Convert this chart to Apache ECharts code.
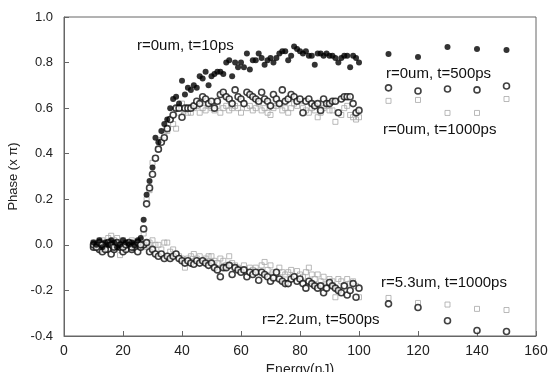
<!DOCTYPE html>
<html>
<head>
<meta charset="utf-8">
<script src="https://cdn.jsdelivr.net/npm/echarts@6/dist/echarts.min.js"></script>
<style>
html,body{margin:0;padding:0;background:#fff;}
#chart{width:549px;height:372px;}
</style>
</head>
<body>
<div id="chart"></div>
<script>
// Energy (nJ): 10..100 step 1, then 110..150 step 10
const energy = [];
for (let e = 10; e <= 100; e++) energy.push(e);
energy.push(110, 120, 130, 140, 150);

// r=0um, t=10ps (filled circles)
const r0t10 = [
  0.01, 0.00, 0.02, -0.01, 0.01, 0.00, 0.02, 0.01, -0.01, 0.00,   // 10-19
  0.02, 0.01, 0.00, 0.01, 0.00, 0.02, 0.03, 0.11, 0.22, 0.28,     // 20-29
  0.34, 0.47, 0.45, 0.50, 0.53, 0.55, 0.60, 0.64, 0.65, 0.62,     // 30-39
  0.72, 0.66, 0.69, 0.68, 0.70, 0.69, 0.74, 0.73, 0.76, 0.70,     // 40-49
  0.74, 0.75, 0.76, 0.76, 0.75, 0.80, 0.81, 0.74, 0.80, 0.78,     // 50-59
  0.80, 0.78, 0.84, 0.77, 0.81, 0.81, 0.84, 0.82, 0.79, 0.81,     // 60-69
  0.82, 0.80, 0.82, 0.84, 0.85, 0.85, 0.81, 0.83, 0.87, 0.86,     // 70-79
  0.85, 0.84, 0.85, 0.83, 0.83, 0.79, 0.84, 0.84, 0.83, 0.84,     // 80-89
  0.83, 0.83, 0.82, 0.80, 0.82, 0.83, 0.83, 0.78, 0.83, 0.82,     // 90-99
  0.80,                                                           // 100
  0.838, 0.825, 0.868, 0.860, 0.855                               // 110-150
];

// r=0um, t=500ps (open circles, upper branch)
const r0t500 = [
  0.00, -0.01, 0.01, 0.00, -0.02, 0.01, 0.00, -0.01, 0.01, 0.00,  // 10-19
  -0.01, 0.00, 0.01, -0.01, 0.00, 0.01, 0.00, 0.07, 0.18, 0.25,   // 20-29
  0.31, 0.38, 0.42, 0.45, 0.47, 0.51, 0.55, 0.57, 0.60, 0.60,     // 30-39
  0.56, 0.60, 0.60, 0.60, 0.61, 0.63, 0.62, 0.65, 0.64, 0.62,     // 40-49
  0.63, 0.60, 0.63, 0.66, 0.67, 0.65, 0.64, 0.62, 0.68, 0.65,     // 50-59
  0.64, 0.62, 0.67, 0.66, 0.65, 0.64, 0.63, 0.67, 0.64, 0.63,     // 60-69
  0.61, 0.66, 0.64, 0.62, 0.68, 0.63, 0.64, 0.66, 0.65, 0.63,     // 70-79
  0.64, 0.58, 0.63, 0.64, 0.62, 0.61, 0.62, 0.59, 0.64, 0.62,     // 80-89
  0.62, 0.63, 0.63, 0.58, 0.64, 0.65, 0.65, 0.65, 0.62, 0.58,     // 90-99
  0.59,                                                           // 100
  0.689, 0.675, 0.684, 0.680, 0.697                               // 110-150
];

// r=0um, t=1000ps (gray squares, upper branch)
const r0t1000 = [
  0.01, 0.00, 0.02, 0.00, 0.01, 0.03, 0.00, 0.02, 0.01, 0.00,     // 10-19
  0.02, 0.01, 0.00, 0.02, 0.01, 0.00, 0.02, 0.05, 0.20, 0.24,     // 20-29
  0.36, 0.38, 0.42, 0.46, 0.48, 0.50, 0.55, 0.53, 0.51, 0.58,     // 30-39
  0.62, 0.59, 0.58, 0.58, 0.60, 0.61, 0.58, 0.60, 0.59, 0.61,     // 40-49
  0.60, 0.59, 0.61, 0.58, 0.60, 0.61, 0.59, 0.60, 0.61, 0.60,     // 50-59
  0.58, 0.62, 0.60, 0.61, 0.59, 0.60, 0.62, 0.59, 0.60, 0.58,     // 60-69
  0.57, 0.60, 0.61, 0.62, 0.59, 0.60, 0.58, 0.60, 0.62, 0.61,     // 70-79
  0.63, 0.60, 0.59, 0.58, 0.60, 0.59, 0.56, 0.58, 0.60, 0.61,     // 80-89
  0.59, 0.59, 0.54, 0.58, 0.57, 0.60, 0.61, 0.57, 0.56, 0.55,     // 90-99
  0.56,                                                           // 100
  0.632, 0.636, 0.579, 0.579, 0.640                               // 110-150
];

// r=2.2um, t=500ps (open circles, lower branch)
const r22t500 = [
  -0.01, 0.00, -0.02, -0.03, -0.01, -0.02, -0.04, -0.02, 0.00, -0.01,   // 10-19
  -0.03, -0.02, 0.00, -0.02, -0.01, -0.03, -0.01, 0.00, 0.01, -0.03,    // 20-29
  -0.02, -0.04, -0.05, -0.04, -0.06, -0.05, -0.06, -0.05, -0.04, -0.06, // 30-39
  -0.07, -0.08, -0.07, -0.08, -0.085, -0.07, -0.08, -0.07, -0.08, -0.09,// 40-49
  -0.08, -0.10, -0.11, -0.14, -0.10, -0.10, -0.09, -0.13, -0.10, -0.11, // 50-59
  -0.12, -0.11, -0.14, -0.12, -0.13, -0.12, -0.155, -0.12, -0.13, -0.14,// 60-69
  -0.16, -0.145, -0.12, -0.15, -0.16, -0.17, -0.17, -0.15, -0.14, -0.16,// 70-79
  -0.15, -0.17, -0.19, -0.16, -0.17, -0.18, -0.19, -0.18, -0.21, -0.19, // 80-89
  -0.165, -0.18, -0.19, -0.20, -0.21, -0.18, -0.22, -0.20, -0.17, -0.23,// 90-99
  -0.19,                                                                // 100
  -0.259, -0.275, -0.333, -0.376, -0.380                                // 110-150
];

// r=5.3um, t=1000ps (gray squares, lower branch)
const r53t1000 = [
  0.01, 0.00, -0.01, 0.02, 0.00, 0.01, 0.04, 0.00, 0.03, -0.045,        // 10-19
  0.02, 0.00, 0.01, -0.01, 0.00, 0.01, 0.02, -0.01, 0.00, 0.01,         // 20-29
  0.02, 0.00, 0.00, -0.02, 0.01, 0.01, -0.03, -0.02, -0.04, -0.05,      // 30-39
  -0.06, -0.10, -0.06, -0.05, -0.04, -0.06, -0.05, -0.07, -0.06, -0.05, // 40-49
  -0.05, -0.07, -0.08, -0.06, -0.07, -0.09, -0.05, -0.08, -0.09, -0.10, // 50-59
  -0.11, -0.09, -0.12, -0.10, -0.11, -0.10, -0.12, -0.09, -0.075, -0.11,// 60-69
  -0.09, -0.12, -0.13, -0.10, -0.12, -0.13, -0.12, -0.11, -0.14, -0.115,// 70-79
  -0.13, -0.14, -0.12, -0.10, -0.13, -0.15, -0.13, -0.16, -0.14, -0.17, // 80-89
  -0.15, -0.16, -0.23, -0.15, -0.16, -0.18, -0.15, -0.17, -0.16, -0.18, // 90-99
  -0.23,                                                                // 100
  -0.233, -0.255, -0.262, -0.281, -0.286                                // 110-150
];

const seriesNames = ['r=0um, t=10ps', 'r=0um, t=500ps', 'r=0um, t=1000ps', 'r=5.3um, t=1000ps', 'r=2.2um, t=500ps'];
const xTicks = [0, 20, 40, 60, 80, 100, 120, 140, 160];
const yTicks = [-0.4, -0.2, 0.0, 0.2, 0.4, 0.6, 0.8, 1.0];

function pairs(ys) { return energy.map((x, i) => [x, ys[i]]); }

const FONT = 'Liberation Sans, Arial, sans-serif';
const chart = echarts.init(document.getElementById('chart'), null, {renderer: 'canvas'});

const squareStyle = {color: 'rgba(255,255,255,0)', borderColor: '#a8a8a8', borderWidth: 1};
const ringStyle = {color: '#fff', borderColor: '#111', borderWidth: 1.6};

chart.setOption({
  animation: false,
  backgroundColor: '#fff',
  grid: {left: 64, right: 13, top: 17, bottom: 36, show: true, borderColor: '#666', borderWidth: 1,
         backgroundColor: 'transparent', containLabel: false, outerBoundsMode: 'none'},
  xAxis: {
    type: 'value', min: xTicks[0], max: xTicks[xTicks.length - 1], interval: 20,
    name: 'Energy(nJ)', nameLocation: 'middle', nameGap: 23,
    nameTextStyle: {fontFamily: FONT, fontSize: 14, color: '#222'},
    axisLine: {show: true, onZero: false, lineStyle: {color: '#666', width: 1}},
    axisTick: {show: true, inside: true, length: 5, lineStyle: {color: '#666'}},
    axisLabel: {fontFamily: FONT, fontSize: 14, color: '#222', margin: 8},
    splitLine: {show: false}
  },
  yAxis: {
    type: 'value', min: yTicks[0], max: yTicks[yTicks.length - 1], interval: 0.2,
    name: 'Phase (x \u03c0)', nameLocation: 'middle', nameGap: 43, nameRotate: 90,
    nameTextStyle: {fontFamily: FONT, fontSize: 13, color: '#222'},
    axisLine: {show: true, onZero: false, lineStyle: {color: '#666', width: 1}},
    axisTick: {show: true, inside: true, length: 5, lineStyle: {color: '#666'}},
    axisLabel: {fontFamily: FONT, fontSize: 13, color: '#222', margin: 11,
      formatter: v => v.toFixed(1)},
    splitLine: {show: false}
  },
  series: [
    {name: seriesNames[3], type: 'scatter', data: pairs(r53t1000), symbol: 'rect', symbolSize: 5, itemStyle: squareStyle, z: 2},
    {name: seriesNames[2], type: 'scatter', data: pairs(r0t1000), symbol: 'rect', symbolSize: 5, itemStyle: squareStyle, z: 2},
    {name: seriesNames[4], type: 'scatter', data: pairs(r22t500), symbol: 'circle', symbolSize: 6, itemStyle: ringStyle, z: 3},
    {name: seriesNames[1], type: 'scatter', data: pairs(r0t500), symbol: 'circle', symbolSize: 6, itemStyle: ringStyle, z: 3},
    {name: seriesNames[0], type: 'scatter', data: pairs(r0t10), symbol: 'circle', symbolSize: 6, itemStyle: {color: '#000'}, z: 4}
  ],
  graphic: [
    {type: 'text', left: 137, top: 38, style: {text: seriesNames[0], font: '15px ' + FONT, fill: '#111'}},
    {type: 'text', left: 386, top: 66, style: {text: seriesNames[1], font: '15px ' + FONT, fill: '#111'}},
    {type: 'text', left: 383, top: 122, style: {text: seriesNames[2], font: '15px ' + FONT, fill: '#111'}},
    {type: 'text', left: 381, top: 275, style: {text: seriesNames[3], font: '15px ' + FONT, fill: '#111'}},
    {type: 'text', left: 262, top: 312, style: {text: seriesNames[4], font: '15px ' + FONT, fill: '#111'}}
  ]
});
</script>
</body>
</html>
